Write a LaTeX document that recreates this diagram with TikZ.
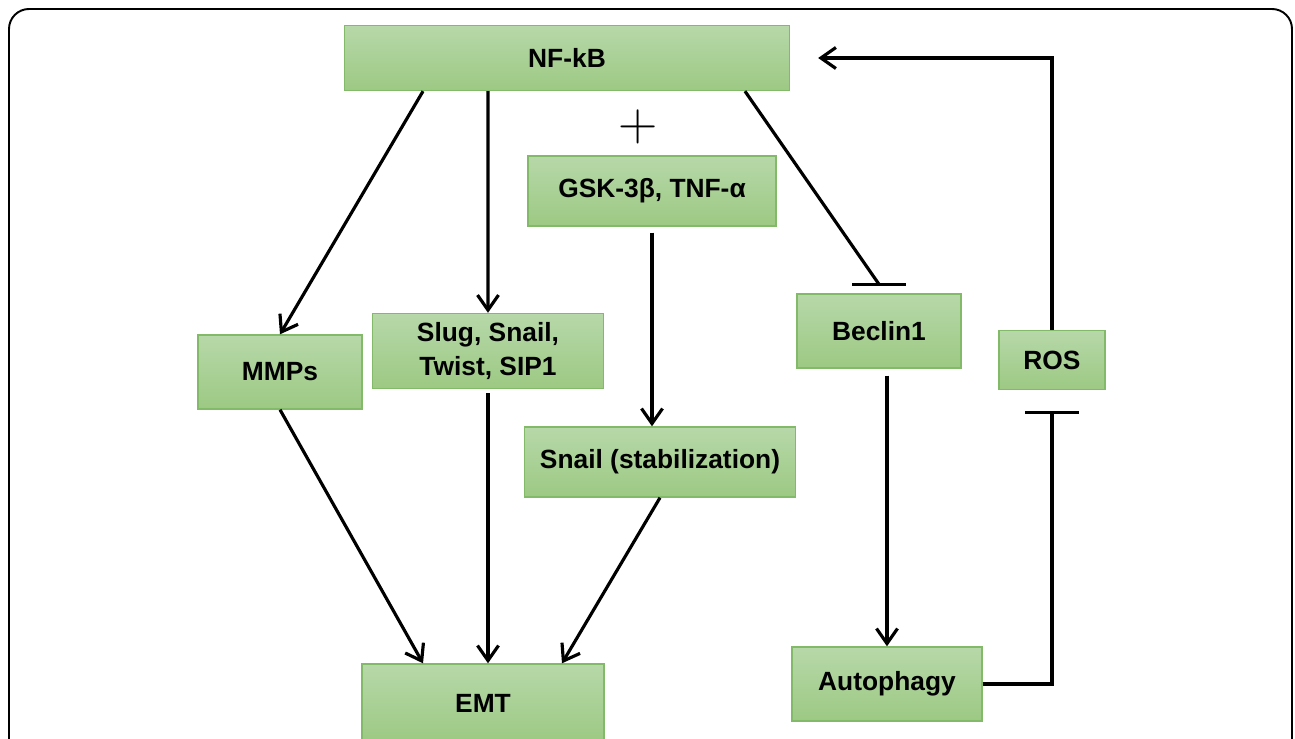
\documentclass[tikz,border=0pt]{standalone}
\usepackage{fontspec}
\newfontfamily\boitefont{Liberation Sans}
\usetikzlibrary{arrows.meta}

\definecolor{vertclair}{HTML}{B7D8A9}
\definecolor{vertfonce}{HTML}{9CC983}
\definecolor{bordvert}{HTML}{82BA69}

\begin{document}
\begin{tikzpicture}
  [x=0.02cm, y=-0.02cm,
   bloc/.style={
    draw=bordvert,
    top color=vertclair,
    bottom color=vertfonce,
    rectangle,
    thick,
    align=center,
    font=\boitefont\bfseries\fontsize{15}{19}\selectfont}, fleche/.style={
    line width=1.8pt,
    -{Straight Barb[length=0.3cm, width=0.42cm]}}, inhibe/.style={
    line width=1.8pt,
    -{Bar[width=1.08cm]}}]

  \useasboundingbox (0,0) rectangle (1295,739);
  \draw [line width=1.1pt, rounded corners=0.4cm] (9,9) rectangle (1292,790);

  \node [bloc, minimum width=8.9cm, minimum height=1.3cm] at (567,58) (nfkb) {NF-kB};

  \node [bloc, minimum width=4.96cm, minimum height=1.4cm] at (652,191) (gsk) {GSK-3β, TNF-α};

  \node at (638,127) (plus) {\fontsize{31}{31}\selectfont +};

  \node [bloc, minimum width=3.28cm, minimum height=1.48cm] at (280,372) (mmps) {MMPs};

  \node [bloc, minimum width=4.62cm, minimum height=1.5cm] at (488,351) (slug) {Slug, Snail,\\Twist, SIP1};

  \node [bloc, minimum width=3.28cm, minimum height=1.48cm] at (879,331) (beclin) {Beclin1};

  \node [bloc, minimum width=2.12cm, minimum height=1.18cm] at (1052,360) (ros) {ROS};

  \node [bloc, minimum width=5.42cm, minimum height=1.4cm] at (660,462) (snailstab) {Snail (stabilization)};

  \node [bloc, minimum width=4.84cm, minimum height=1.56cm] at (483,703) (emt) {EMT};

  \node [bloc, minimum width=3.8cm, minimum height=1.48cm] at (887,684) (autophagie) {Autophagy};

  \coordinate (barre) at ([yshift=0.18cm]beclin.north);

  \draw [fleche] ([xshift=-2.88cm]nfkb.south) -- (mmps.north);
  \draw [fleche] ([xshift=-1.58cm]nfkb.south) -- (slug.north);
  \draw [fleche, shorten <=0.12cm] (gsk.south) -- (gsk.south |- snailstab.north);
  \draw [line width=1.8pt] ([xshift=3.56cm]nfkb.south) -- (barre);
  \draw [line width=1.8pt] ([xshift=-0.54cm]barre) -- ([xshift=0.54cm]barre);
  \draw [fleche, shorten <=0.14cm] (autophagie.north |- beclin.south) -- (autophagie.north);
  \draw [fleche] (mmps.south) -- ([xshift=-1.2cm]emt.north);
  \draw [fleche, shorten <=0.08cm] (slug.south) -- (slug.south |- emt.north);
  \draw [fleche] (snailstab.south) -- ([xshift=1.58cm]emt.north);
  \draw [inhibe] (autophagie.east) -| ([yshift=-0.42cm]ros.south);
  \draw [fleche, shorten >=0.56cm] (ros.north) |- (nfkb.east);
\end{tikzpicture}
\end{document}
